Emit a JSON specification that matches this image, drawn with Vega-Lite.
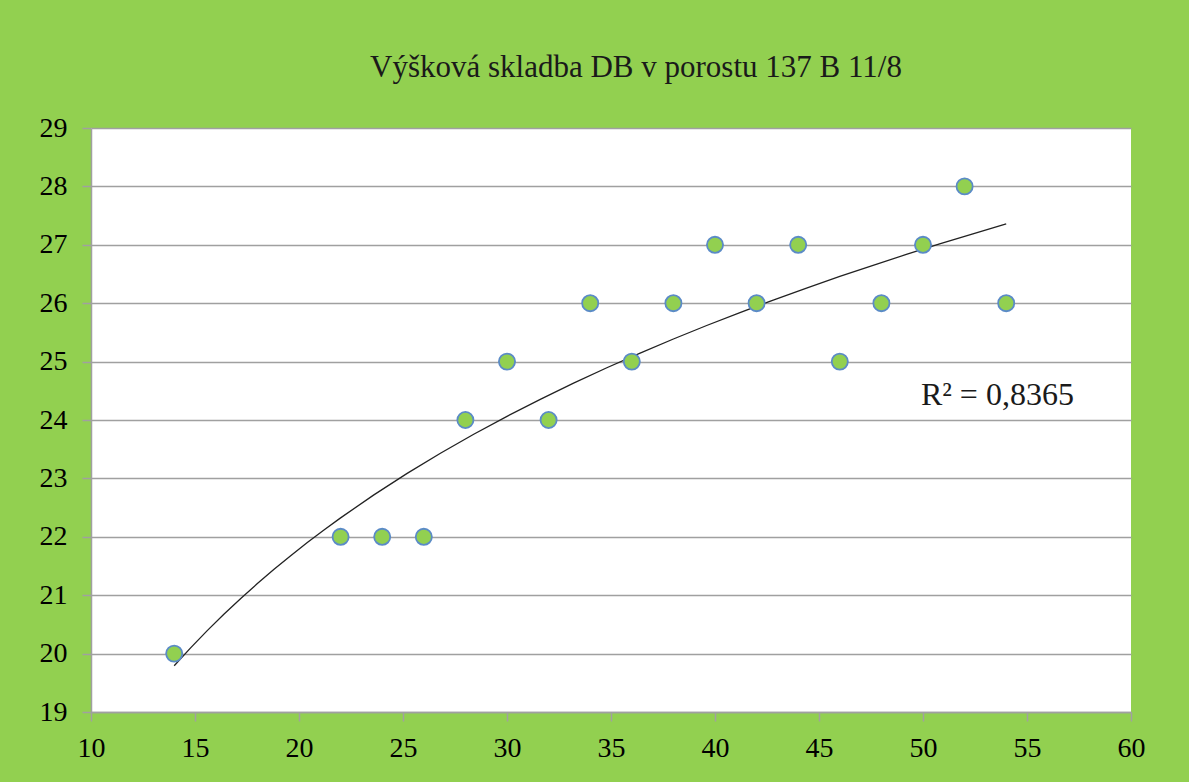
{
  "$schema": "https://vega.github.io/schema/vega-lite/v6.json",
  "width": 1040,
  "height": 584,
  "autosize": {"type": "none"},
  "padding": {"left": 91, "top": 128, "right": 58, "bottom": 70},
  "background": "#92D050",
  "config": {"view": {"fill": "white", "stroke": null}, "font": "Liberation Serif"},
  "title": {
    "text": "Výšková skladba DB v porostu 137 B 11/8",
    "font": "Liberation Serif",
    "fontSize": 31,
    "fontWeight": "normal",
    "color": "#1a1a1a",
    "offset": 30,
    "dx": 25
  },
  "datasets": {
    "trees": [
      {"dbh": 14, "height": 20},
      {"dbh": 22, "height": 22},
      {"dbh": 24, "height": 22},
      {"dbh": 26, "height": 22},
      {"dbh": 28, "height": 24},
      {"dbh": 30, "height": 25},
      {"dbh": 32, "height": 24},
      {"dbh": 34, "height": 26},
      {"dbh": 36, "height": 25},
      {"dbh": 38, "height": 26},
      {"dbh": 40, "height": 27},
      {"dbh": 42, "height": 26},
      {"dbh": 44, "height": 27},
      {"dbh": 46, "height": 25},
      {"dbh": 48, "height": 26},
      {"dbh": 50, "height": 27},
      {"dbh": 52, "height": 28},
      {"dbh": 54, "height": 26}
    ],
    "note": [{"label": "R² = 0,8365"}]
  },
  "layer": [
    {
      "data": {"name": "trees"},
      "transform": [{"regression": "height", "on": "dbh", "method": "log", "extent": [14, 54]}],
      "mark": {"type": "line", "color": "#222222", "strokeWidth": 1.3},
      "encoding": {
        "x": {"field": "dbh", "type": "quantitative"},
        "y": {"field": "height", "type": "quantitative"}
      }
    },
    {
      "data": {"name": "trees"},
      "mark": {"type": "circle", "fill": "#92D050", "stroke": "#5B8BC7", "strokeWidth": 1.8, "size": 260, "opacity": 1},
      "encoding": {
        "x": {
          "field": "dbh",
          "type": "quantitative",
          "scale": {"domain": [10, 60], "nice": false, "zero": false},
          "axis": {
            "title": null,
            "values": [10, 15, 20, 25, 30, 35, 40, 45, 50, 55, 60],
            "format": "d",
            "grid": false,
            "domainColor": "#A0A0A0",
            "domainWidth": 1.5,
            "tickColor": "#A0A0A0",
            "tickWidth": 1.5,
            "tickSize": 9,
            "labelFont": "Liberation Serif",
            "labelFontSize": 28,
            "labelColor": "#000000",
            "labelPadding": 13,
            "labelFlush": false
          }
        },
        "y": {
          "field": "height",
          "type": "quantitative",
          "scale": {"domain": [19, 29], "nice": false, "zero": false},
          "axis": {
            "title": null,
            "values": [19, 20, 21, 22, 23, 24, 25, 26, 27, 28, 29],
            "format": "d",
            "grid": true,
            "gridColor": "#A0A0A0",
            "gridWidth": 1.5,
            "domainColor": "#A0A0A0",
            "domainWidth": 1.5,
            "tickColor": "#A0A0A0",
            "tickWidth": 1.5,
            "tickSize": 9,
            "labelFont": "Liberation Serif",
            "labelFontSize": 28,
            "labelColor": "#000000",
            "labelPadding": 15,
            "labelFlush": false
          }
        }
      }
    },
    {
      "data": {"name": "note"},
      "mark": {"type": "text", "align": "left", "baseline": "middle", "font": "Liberation Serif", "fontSize": 32, "fill": "#1a1a1a"},
      "encoding": {
        "x": {"datum": 49.9, "type": "quantitative"},
        "y": {"datum": 24.43, "type": "quantitative"},
        "text": {"field": "label", "type": "nominal"}
      }
    }
  ]
}
